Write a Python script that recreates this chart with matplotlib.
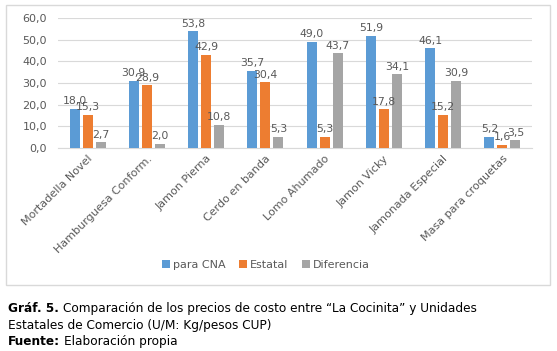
import numpy as np
import matplotlib.pyplot as plt
from matplotlib.patches import Rectangle

categories = ["Mortadella Novel", "Hamburguesa Conform.", "Jamon Pierna", "Cerdo en banda",
              "Lomo Ahumado", "Jamon Vicky", "Jamonada Especial", "Masa para croquetas"]
para_cna = [18.0, 30.9, 53.8, 35.7, 49.0, 51.9, 46.1, 5.2]
estatal = [15.3, 28.9, 42.9, 30.4, 5.3, 17.8, 15.2, 1.6]
diferencia = [2.7, 2.0, 10.8, 5.3, 43.7, 34.1, 30.9, 3.5]

series = [("para CNA", para_cna, "#5B9BD5"),
          ("Estatal", estatal, "#ED7D31"),
          ("Diferencia", diferencia, "#A5A5A5")]

W, H = 557, 351
fig = plt.figure(figsize=(W / 100, H / 100), dpi=100)

# chart border
fig.patches.append(Rectangle((6 / W, 1 - 285 / H), 544 / W, 280 / H, transform=fig.transFigure,
                             fill=False, edgecolor="#D9D9D9", linewidth=1.0))

ax = fig.add_axes([58 / W, 1 - 148 / H, 474 / W, 130 / H])

x = np.arange(len(categories))
bw = 0.17
step = 0.22
for i, (name, vals, col) in enumerate(series):
    pos = x + (i - 1) * step
    ax.bar(pos, vals, bw, color=col, label=name, zorder=3)
    for p, v in zip(pos, vals):
        ax.text(p, v + 1.2, f"{v:.1f}".replace(".", ","), ha="center", va="bottom",
                fontsize=7.8, color="#595959", zorder=4)

ax.set_ylim(0, 60)
ax.set_xlim(-0.5, len(categories) - 0.5)
ax.set_yticks(range(0, 61, 10))
ax.set_yticklabels([f"{t:.1f}".replace(".", ",") for t in range(0, 61, 10)])
ax.grid(axis="y", color="#D9D9D9", linewidth=0.8, zorder=0)
for s in ["top", "right", "left"]:
    ax.spines[s].set_visible(False)
ax.spines["bottom"].set_color("#D9D9D9")
ax.tick_params(axis="both", length=0, labelsize=8, colors="#595959")
ax.tick_params(axis="y", pad=8)
ax.set_xticks(x)
ax.set_xticklabels(categories, rotation=45, ha="right", rotation_mode="anchor")
ax.tick_params(axis="x", pad=4)

handles, labels = ax.get_legend_handles_labels()
fig.legend(handles, labels, loc="center", bbox_to_anchor=(266 / W, 1 - 265 / H), ncol=3,
           frameon=False, fontsize=8, labelcolor="#595959", handlelength=0.7,
           handleheight=0.7, handletextpad=0.3, columnspacing=1.2)

# caption: bold lead-in followed by regular text
cap = 8.7
renderer = fig.canvas.get_renderer()


def caption_line(y, bold, rest):
    t = fig.text(8 / W, 1 - y / H, bold, fontsize=cap, fontweight="bold", va="baseline")
    x1 = t.get_window_extent(renderer).x1
    fig.text((x1 + 4) / W, 1 - y / H, rest, fontsize=cap, va="baseline")


caption_line(312, "Gráf. 5.", "Comparación de los precios de costo entre “La Cocinita” y Unidades")
fig.text(8 / W, 1 - 329 / H, "Estatales de Comercio (U/M: Kg/pesos CUP)", fontsize=cap, va="baseline")
caption_line(345, "Fuente:", "Elaboración propia")

fig.savefig("out.png", dpi=100)
